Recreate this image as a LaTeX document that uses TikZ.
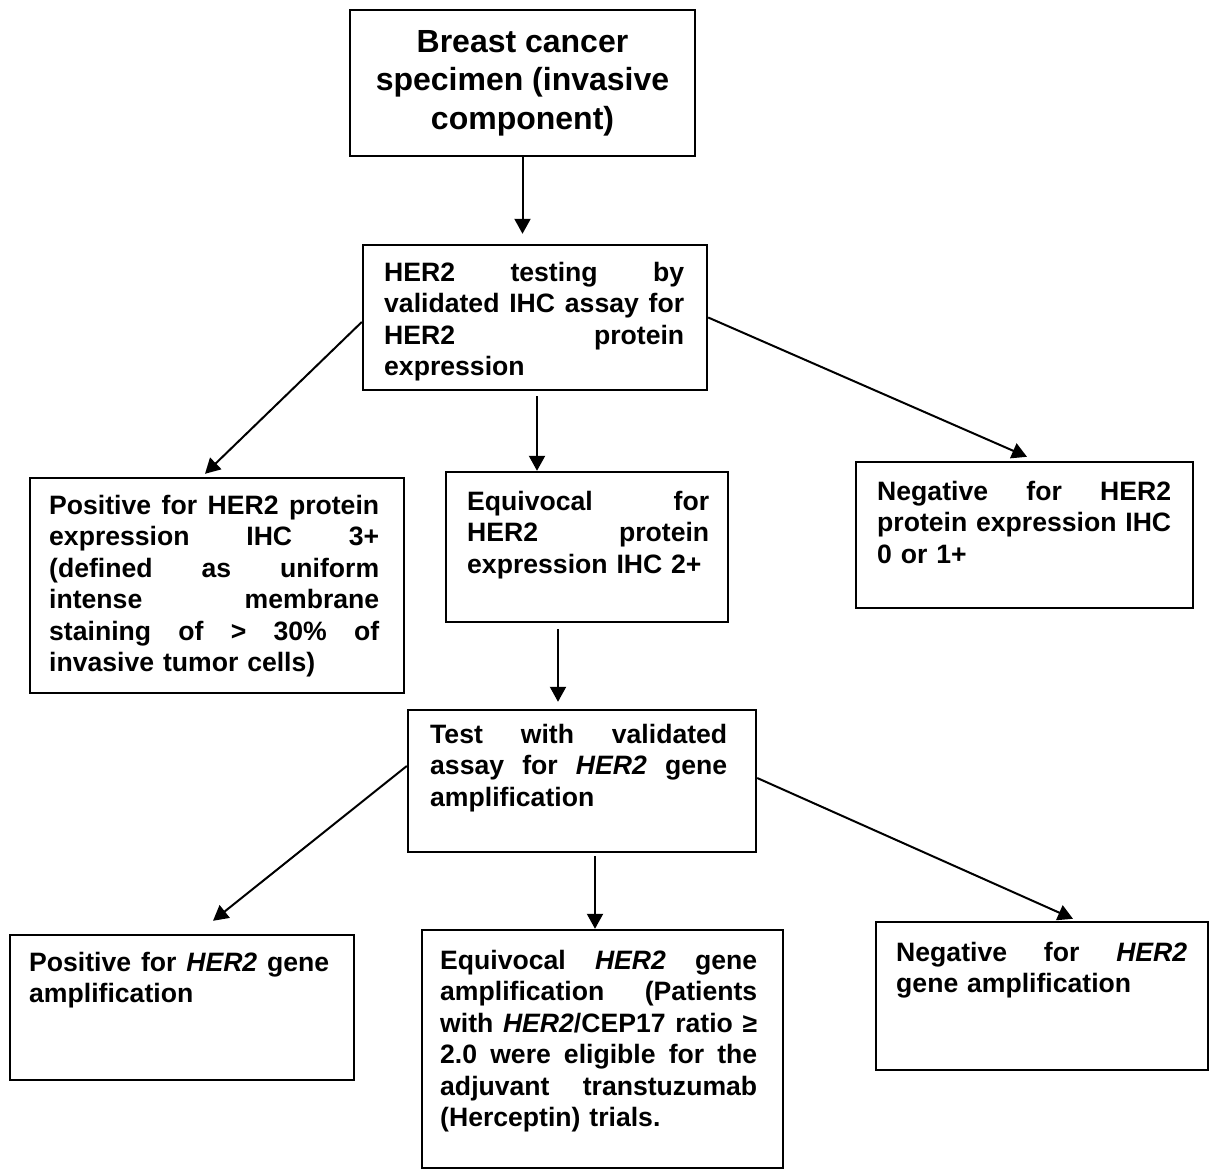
\documentclass[tikz,border=0pt]{standalone}
\usepackage{fontspec}
\setmainfont{Liberation Sans}
\usetikzlibrary{arrows.meta}
\newcommand{\jl}[1]{\makebox[\linewidth][s]{\spaceskip=0.28em plus 1fil\relax #1}}
\begin{document}
\begin{tikzpicture}[x=0.5pt,y=-0.5pt,
  boxshape/.style={draw,line width=1.2pt,inner sep=0pt,rectangle},
  bodytext/.style={anchor=north west,inner sep=0pt,align=left,font=\fontsize{13.3}{15.7}\selectfont\bfseries},
  titletext/.style={anchor=north,inner sep=0pt,align=center,font=\fontsize{16}{19.25}\selectfont\bfseries},
  arr/.style={line width=1pt,-{Triangle[length=7.5pt,width=8pt]}}]
\useasboundingbox (0,0) rectangle (1209,1171);
% boxes
\node[boxshape,minimum width=172.5pt,minimum height=73pt] (b1) at (522.5,83) {};
\node[boxshape,minimum width=172pt,minimum height=72.5pt] (b2) at (535,317.5) {};
\node[boxshape,minimum width=187pt,minimum height=107.5pt] (b3) at (217,585.5) {};
\node[boxshape,minimum width=141pt,minimum height=75pt] (b4) at (587,547) {};
\node[boxshape,minimum width=168.5pt,minimum height=73pt] (b5) at (1024.5,535) {};
\node[boxshape,minimum width=174pt,minimum height=71pt] (b6) at (582,781) {};
\node[boxshape,minimum width=172pt,minimum height=72.5pt] (b7) at (182,1007.5) {};
\node[boxshape,minimum width=180.5pt,minimum height=119pt] (b8) at (602.5,1049) {};
\node[boxshape,minimum width=166pt,minimum height=74pt] (b9) at (1042,996) {};
% texts
\node[titletext] (t1) at ([yshift=-10.5pt]b1.north) {Breast cancer\\specimen (invasive\\component)};
\node[bodytext,text width=150pt] (t2) at ([xshift=11pt,yshift=-9pt]b2.north west)
  {\jl{HER2 testing by}\\\jl{validated IHC assay for}\\\jl{HER2 protein}\\expression};
\node[bodytext,text width=165pt] (t3) at ([xshift=10pt,yshift=-9pt]b3.north west)
  {\jl{Positive for HER2 protein}\\\jl{expression IHC 3+}\\\jl{(defined as uniform}\\\jl{intense membrane}\\\jl{staining of > 30\% of}\\invasive tumor cells)};
\node[bodytext,text width=121pt] (t4) at ([xshift=11pt,yshift=-10pt]b4.north west)
  {\jl{Equivocal for}\\\jl{HER2 protein}\\expression IHC 2+};
\node[bodytext,text width=147pt] (t5) at ([xshift=11pt,yshift=-10pt]b5.north west)
  {\jl{Negative for HER2}\\\jl{protein expression IHC}\\0 or 1+};
\node[bodytext,text width=148.5pt] (t6) at ([xshift=11.5pt,yshift=-7.5pt]b6.north west)
  {\jl{Test with validated}\\\jl{assay for \textit{HER2} gene}\\amplification};
\node[bodytext,text width=150pt] (t7) at ([xshift=10pt,yshift=-9pt]b7.north west)
  {\jl{Positive for \textit{HER2} gene}\\amplification};
\node[bodytext,text width=158.5pt] (t8) at ([xshift=9.5pt,yshift=-10.5pt]b8.north west)
  {\jl{Equivocal \textit{HER2} gene}\\\jl{amplification (Patients}\\\jl{with \textit{HER2}/CEP17 ratio ≥}\\\jl{2.0 were eligible for the}\\\jl{adjuvant transtuzumab}\\(Herceptin) trials.};
\node[bodytext,text width=145.5pt] (t9) at ([xshift=10.5pt,yshift=-10.5pt]b9.north west)
  {\jl{Negative for \textit{HER2}}\\gene amplification};
% arrows
\draw[arr,shorten >=5pt] (b1.south) -- (b1.south |- b2.north);
\draw[arr] ([yshift=-2.25pt]b2.west) -- ([xshift=-6pt,yshift=1.5pt]b3.north);
\draw[arr,shorten <=2.5pt] ([xshift=1pt]b2.south) -- ([xshift=1pt]b2.south |- b4.north);
\draw[arr] (b2.east) -- ([xshift=1.25pt,yshift=2pt]b5.north);
\draw[arr,shorten <=3pt,shorten >=3.5pt] ([xshift=-14.5pt]b4.south) -- ([xshift=-14.5pt]b4.south |- b6.north);
\draw[arr] ([yshift=7.5pt]b6.west) -- ([xshift=15.5pt,yshift=6.5pt]b7.north);
\draw[arr,shorten <=1.5pt] ([xshift=6.5pt]b6.south) -- ([xshift=6.5pt]b6.south |- b8.north);
\draw[arr] ([yshift=1.5pt]b6.east) -- ([xshift=15.5pt,yshift=1pt]b9.north);
\end{tikzpicture}
\end{document}
